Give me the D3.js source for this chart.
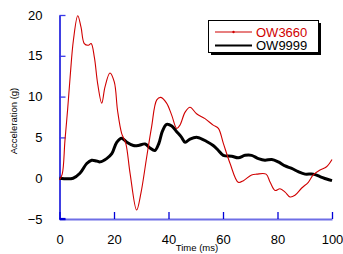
<!DOCTYPE html>
<html><head><meta charset="utf-8">
<script src="https://cdn.jsdelivr.net/npm/d3@7"></script>
<style>
html,body{margin:0;padding:0;background:#fff;}
svg{display:block;}
text{font-family:"Liberation Sans",Arial,sans-serif;}
</style></head>
<body><svg id="c" width="343" height="254"></svg>
<script>
const xTicks = [0, 20, 40, 60, 80, 100];
const yTicks = [-5, 0, 5, 10, 15, 20];
const seriesNames = ["OW3660", "OW9999"];

const timeA = [0, 1, 2, 3, 3.9, 5.1, 6.7, 7.9, 9.1, 10.6, 11.6, 12.8, 14, 15.5, 16.7, 18.5, 20.1, 21.3, 22.8, 24.3, 25.9, 28.3, 29.9, 32, 33.8, 35.7, 37.2, 39.3, 41.2, 43, 44.2, 46.1, 47.9, 50.3, 53.4, 56.4, 58.3, 60.1, 62.6, 65.6, 67.5, 70.5, 72.4, 75.8, 77.3, 79.1, 80.9, 82.8, 84.6, 86.4, 88.9, 91.3, 93.1, 95.6, 98, 100];
const valA  = [-0.2, 0.5, 4.6, 8.5, 12.4, 16.9, 19.9, 18.5, 16.5, 16.3, 16.5, 14.8, 11.6, 9.2, 11.2, 12.9, 11.8, 8.3, 5.5, 4.3, 0.6, -3.9, -1.8, 2.6, 6.3, 9.6, 9.9, 9.2, 7.7, 6.1, 6.5, 8.1, 8.7, 7.9, 7.3, 6.5, 6.1, 4.3, 1.8, -0.5, -0.3, 0.4, 0.5, 0.5, -0.5, -1.5, -1.3, -1.7, -2.3, -2.1, -1.2, -0.5, 0.4, 1.0, 1.4, 2.3];

const timeB = [0, 5, 7.5, 10, 11.8, 13.6, 14.9, 17.3, 19.2, 21, 22.8, 24.7, 27.1, 28.9, 31.4, 33.2, 35, 36.5, 37.7, 39.3, 41.2, 43, 44.6, 46.1, 47.9, 50.6, 54, 56.4, 58.3, 60.1, 63.2, 65.6, 68.1, 70.5, 73, 75.4, 77.9, 80.3, 82.8, 85.2, 87.6, 90.1, 93.1, 95.6, 98, 100];
const valB  = [0, 0, 0.6, 1.8, 2.2, 2.1, 2.0, 2.4, 3.0, 4.4, 4.9, 4.4, 4.0, 4.0, 4.2, 3.7, 3.4, 4.3, 5.7, 6.6, 6.4, 5.7, 5.1, 4.4, 4.8, 5.0, 4.5, 4.0, 3.4, 2.8, 2.7, 2.5, 2.8, 2.8, 2.4, 2.2, 2.3, 2.0, 1.5, 1.2, 0.8, 0.5, 0.5, 0.2, -0.1, -0.3];

const svg = d3.select("#c");
const x = d3.scaleLinear().domain([0, 100]).range([59.5, 332]);
const y = d3.scaleLinear().domain([-5, 20]).range([219, 15]);

// x axis
const gx = svg.append("g").attr("transform", `translate(0,${y(-5)})`)
  .call(d3.axisBottom(x).tickValues(xTicks).tickSizeInner(-7).tickSizeOuter(0).tickPadding(16));
gx.select(".domain").attr("stroke", "#6e6ee6").attr("stroke-width", 2.2);
gx.selectAll(".tick line").attr("stroke", "#0000d8").attr("stroke-width", 1.3);
gx.selectAll(".tick text").attr("font-size", 13).attr("fill", "#000")
  .attr("font-family", "Liberation Sans, Arial, sans-serif");

// y axis
const gy = svg.append("g").attr("transform", `translate(${x(0)},0)`)
  .call(d3.axisLeft(y).tickValues(yTicks).tickSizeInner(-6).tickSizeOuter(0).tickPadding(17));
gy.select(".domain").attr("stroke", "#0000d8").attr("stroke-width", 1.5);
gy.selectAll(".tick line").attr("stroke", "#3a3ae8").attr("stroke-width", 1.3);
gy.selectAll(".tick text").attr("font-size", 13).attr("fill", "#000")
  .attr("font-family", "Liberation Sans, Arial, sans-serif");

// corner
svg.append("line").attr("x1", x(0)).attr("x2", x(0) + 6).attr("y1", y(-5)).attr("y2", y(-5))
  .attr("stroke", "#0000d8").attr("stroke-width", 2.2);

// axis titles
svg.append("text").attr("x", 197).attr("y", 251).attr("text-anchor", "middle")
  .attr("font-size", 9.5).text("Time (ms)");
svg.append("text").attr("transform", "translate(17,121) rotate(-90)").attr("text-anchor", "middle")
  .attr("font-size", 9.5).text("Acceleration (g)");

const line = d3.line().curve(d3.curveCatmullRom.alpha(0.5));
const ptsA = timeA.map((t, i) => [x(t), y(valA[i])]);
const ptsB = timeB.map((t, i) => [x(t), y(valB[i])]);

svg.append("path").attr("d", line(ptsB)).attr("fill", "none")
  .attr("stroke", "#000").attr("stroke-width", 3).attr("stroke-linejoin", "round");
svg.append("path").attr("d", line(ptsA)).attr("fill", "none")
  .attr("stroke", "#d00000").attr("stroke-width", 1.1).attr("stroke-linejoin", "round");

// legend
const lg = svg.append("g");
lg.append("rect").attr("x", 211).attr("y", 23).attr("width", 110).attr("height", 32).attr("fill", "#000");
lg.append("rect").attr("x", 208.5).attr("y", 20.5).attr("width", 110).attr("height", 32)
  .attr("fill", "#fff").attr("stroke", "#000").attr("stroke-width", 1);
lg.append("line").attr("x1", 215).attr("x2", 252).attr("y1", 32).attr("y2", 32)
  .attr("stroke", "#d00000").attr("stroke-width", 1.1);
lg.append("circle").attr("cx", 233.5).attr("cy", 32).attr("r", 1.2).attr("fill", "#d00000");
lg.append("line").attr("x1", 215).attr("x2", 252).attr("y1", 45.5).attr("y2", 45.5)
  .attr("stroke", "#000").attr("stroke-width", 2.2);
lg.append("text").attr("x", 256).attr("y", 36.5).attr("font-size", 13).attr("fill", "#d00000").text(seriesNames[0]);
lg.append("text").attr("x", 256).attr("y", 50).attr("font-size", 13).attr("fill", "#000").text(seriesNames[1]);
</script></body></html>
